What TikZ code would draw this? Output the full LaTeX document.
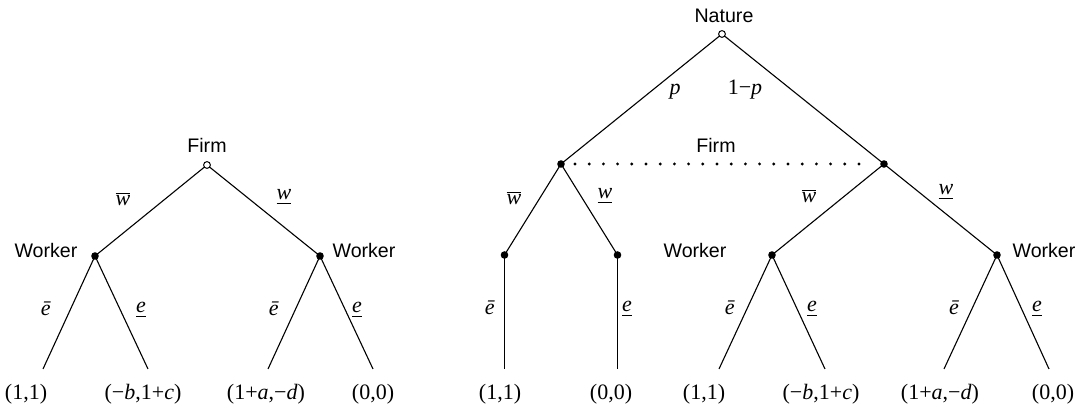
\documentclass[tikz,border=0pt]{standalone}
\usepackage{fontspec}
\setmainfont{Liberation Serif}
\setsansfont{Liberation Sans}
\newcommand\wbar{$\overline{\hbox{\itshape w}}$}
\newcommand\wund{$\underline{\hbox{\itshape w}}$}
\newcommand\ebar{\textit{ē}}
\newcommand\eund{$\underline{\hbox{\itshape e}}$}
\begin{document}
\begin{tikzpicture}[x=0.5pt,y=-0.5pt,
  edge/.style={line width=0.55pt},
  pl/.style={font=\fontsize{9.8}{11}\sffamily,anchor=base,inner sep=0pt},
  ml/.style={font=\fontsize{11}{13}\selectfont,anchor=base,inner sep=0pt},
  pay/.style={font=\fontsize{11}{13}\selectfont,anchor=base,inner sep=0pt},
  dec/.style={circle,fill=black,inner sep=0pt,minimum size=3.8pt},
  open/.style={circle,draw=black,fill=white,line width=0.5pt,inner sep=0pt,minimum size=3.4pt},
  info/.style={line width=1.6pt,line cap=round,dash pattern=on 0pt off 7.1pt}]
\path[use as bounding box] (0,0) rectangle (1083,410);
% ---------- left tree ----------
\coordinate (F) at (207,165);
\coordinate (W1) at (95,256);
\coordinate (W2) at (320,256);
\coordinate (L1) at (43,369);
\coordinate (L2) at (148,369);
\coordinate (L3) at (268,369);
\coordinate (L4) at (373,369);
\draw[edge] (F) -- (W1) (F) -- (W2);
\draw[edge] (W1) -- (L1) (W1) -- (L2) (W2) -- (L3) (W2) -- (L4);
\node[open] (Fn) at (F) {};
\node[dec] (W1n) at (W1) {};
\node[dec] (W2n) at (W2) {};
\node[pl] (tF) at (207,153) {Firm};
\node[pl] (tW1) at (46,258) {Worker};
\node[pl] (tW2) at (364,258) {Worker};
\node[ml] (a1) at (123,206) {\wbar};
\node[ml] (a2) at (284,200) {\wund};
\node[ml] (a3) at (46,316) {\ebar};
\node[ml] (a4) at (141,313) {\eund};
\node[ml] (a5) at (274,316) {\ebar};
\node[ml] (a6) at (357,313) {\eund};
\node[pay] (p1) at (26,400) {(1,1)};
\node[pay] (p2) at (143,400) {(−\textit{b},1+\textit{c})};
\node[pay] (p3) at (266,400) {(1+\textit{a},−\textit{d})};
\node[pay] (p4) at (373,400) {(0,0)};
% ---------- right tree ----------
\coordinate (N) at (722,34);
\coordinate (FL) at (561,164);
\coordinate (FR) at (884,164);
\coordinate (A1) at (504.5,255);
\coordinate (A2) at (617.5,255);
\coordinate (B1) at (772,255);
\coordinate (B2) at (997,255);
\coordinate (M1) at (504.5,369);
\coordinate (M2) at (617.5,369);
\coordinate (M3) at (719,369);
\coordinate (M4) at (825,369);
\coordinate (M5) at (944,369);
\coordinate (M6) at (1049,369);
\draw[edge] (N) -- (FL) (N) -- (FR);
\draw[edge] (FL) -- (A1) (FL) -- (A2) (FR) -- (B1) (FR) -- (B2);
\draw[edge] (A1) -- (M1) (A2) -- (M2);
\draw[edge] (B1) -- (M3) (B1) -- (M4) (B2) -- (M5) (B2) -- (M6);
\draw[info] ([xshift=7pt]FL) -- ([xshift=-7pt]FR);
\node[open] (Nn) at (N) {};
\node[dec] (FLn) at (FL) {};
\node[dec] (FRn) at (FR) {};
\node[dec] (A1n) at (A1) {};
\node[dec] (A2n) at (A2) {};
\node[dec] (B1n) at (B1) {};
\node[dec] (B2n) at (B2) {};
\node[pl] (tN) at (724,23) {Nature};
\node[pl] (tF2) at (716,153) {Firm};
\node[pl] (tW3) at (695,258) {Worker};
\node[pl] (tW4) at (1044,258) {Worker};
\node[ml] (q1) at (675,95) {\textit{p}};
\node[ml] (q2) at (745,95) {1−\textit{p}};
\node[ml] (b1) at (514,205) {\wbar};
\node[ml] (b2) at (605,199) {\wund};
\node[ml] (b3) at (809,203) {\wbar};
\node[ml] (b4) at (946,195) {\wund};
\node[ml] (c1) at (490,315) {\ebar};
\node[ml] (c2) at (627,312) {\eund};
\node[ml] (c3) at (730,315) {\ebar};
\node[ml] (c4) at (812,312) {\eund};
\node[ml] (c5) at (954,315) {\ebar};
\node[ml] (c6) at (1037,312) {\eund};
\node[pay] (r1) at (500,400) {(1,1)};
\node[pay] (r2) at (611,400) {(0,0)};
\node[pay] (r3) at (704,400) {(1,1)};
\node[pay] (r4) at (821,400) {(−\textit{b},1+\textit{c})};
\node[pay] (r5) at (940,400) {(1+\textit{a},−\textit{d})};
\node[pay] (r6) at (1053,400) {(0,0)};
\end{tikzpicture}
\end{document}
